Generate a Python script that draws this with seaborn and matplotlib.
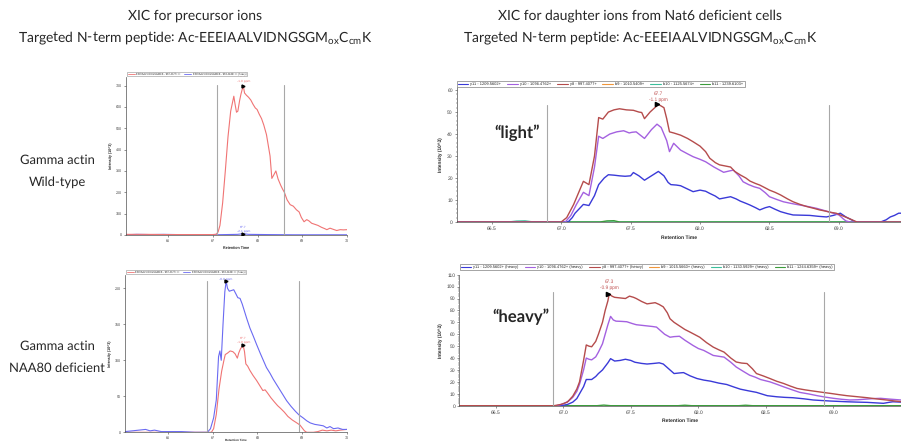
import matplotlib
matplotlib.use("Agg")
import matplotlib.pyplot as plt
from matplotlib.lines import Line2D
from matplotlib.ticker import MultipleLocator
import numpy as np
import pandas as pd
import seaborn as sns

# ---------------------------------------------------------------- data
# Precursor XIC, gamma actin wild-type (retention time [min], intensity [10^3])
wt_light = [(65.06, 3), (65.5, 3), (66.0, 2), (66.5, 2), (67.0, 2), (67.08, 4), (67.12, 15),
            (67.16, 45), (67.22, 150), (67.28, 300), (67.34, 460), (67.40, 580), (67.47, 650),
            (67.50, 610), (67.53, 575), (67.56, 580), (67.60, 630), (67.63, 660), (67.68, 700),
            (67.71, 665), (67.75, 655), (67.80, 645), (67.85, 632), (67.90, 612), (67.95, 595),
            (67.99, 588), (68.04, 565), (68.09, 545), (68.14, 515), (68.20, 470), (68.24, 420),
            (68.28, 370), (68.32, 265), (68.36, 280), (68.41, 300), (68.46, 262), (68.52, 232),
            (68.56, 215), (68.60, 200), (68.66, 165), (68.73, 142), (68.80, 135), (68.87, 118),
            (68.93, 108), (68.98, 82), (69.04, 62), (69.10, 72), (69.15, 66), (69.21, 55),
            (69.28, 50), (69.35, 45), (69.43, 36), (69.50, 30), (69.55, 25), (69.62, 32),
            (69.70, 26), (69.77, 21), (69.85, 25), (69.92, 24), (70.0, 25)]
wt_heavy = [(65.06, 1), (65.3, 3), (65.6, 2), (65.9, 3), (66.2, 2), (66.6, 1), (67.0, 1),
            (67.3, 2), (67.55, 3), (67.68, 6), (67.8, 3), (68.2, 2), (68.8, 1), (69.4, 1), (70.0, 1)]

# Precursor XIC, gamma actin NAA80 deficient
ko_light = [(65.04, 0), (65.5, 0), (66.0, 0), (66.5, 0), (66.97, 0), (67.02, 5), (67.08, 25),
            (67.14, 60), (67.20, 85), (67.25, 100), (67.28, 108), (67.33, 110), (67.39, 113),
            (67.45, 112), (67.50, 109), (67.55, 103), (67.58, 110), (67.62, 116), (67.68, 121),
            (67.71, 112), (67.74, 95), (67.78, 92), (67.83, 86), (67.90, 79), (67.98, 72),
            (68.05, 65), (68.12, 58), (68.17, 59), (68.22, 55), (68.30, 48), (68.38, 42),
            (68.45, 37), (68.52, 33), (68.60, 28), (68.68, 22), (68.78, 17), (68.88, 13),
            (68.95, 10), (69.00, 6), (69.05, 2), (69.10, 0), (69.25, 0), (69.35, 1), (69.45, 3),
            (69.55, 2), (69.65, 3), (69.75, 2), (69.85, 3), (70.0, 4)]
ko_heavy = [(65.04, 1), (65.2, 2), (65.35, 3), (65.5, 4), (65.6, 2), (65.7, 3), (65.85, 1),
            (66.0, 1), (66.3, 1), (66.6, 0), (66.88, 0), (66.95, 5), (67.02, 20), (67.08, 45),
            (67.13, 105), (67.16, 113), (67.19, 100), (67.23, 150), (67.27, 195), (67.30, 210),
            (67.33, 200), (67.37, 196), (67.42, 197), (67.47, 198), (67.52, 192), (67.56, 187),
            (67.61, 186), (67.66, 178), (67.71, 168), (67.76, 158), (67.83, 145), (67.91, 133),
            (67.98, 122), (68.06, 110), (68.13, 100), (68.20, 90), (68.28, 82), (68.35, 74),
            (68.43, 66), (68.50, 59), (68.58, 51), (68.65, 44), (68.75, 36), (68.85, 29),
            (68.93, 24), (69.02, 20), (69.10, 16), (69.18, 13), (69.28, 11), (69.38, 10),
            (69.47, 9), (69.55, 6), (69.62, 8), (69.70, 5), (69.80, 6), (69.90, 4), (70.0, 4)]

# Fragment-ion XIC, Nat6 deficient cells, light peptide
light_y8 = [(66.25, 0), (66.6, 0), (67.0, 0), (67.04, 2), (67.09, 8), (67.13, 14), (67.16, 18.5),
            (67.20, 17), (67.24, 30), (67.27, 47.5), (67.30, 46.8), (67.34, 50), (67.38, 51),
            (67.42, 51.5), (67.47, 51), (67.52, 50.8), (67.56, 50), (67.58, 49.8), (67.60, 47),
            (67.64, 50), (67.70, 53.5), (67.74, 52), (67.76, 47), (67.78, 41), (67.81, 40.5),
            (67.86, 39.5), (67.91, 38), (67.95, 36.5), (68.0, 34.5), (68.04, 32), (68.07, 29),
            (68.11, 27), (68.14, 26), (68.18, 25.5), (68.22, 25), (68.25, 23), (68.29, 21.4),
            (68.33, 20), (68.36, 18.6), (68.40, 17.5), (68.43, 16.8), (68.47, 15.5), (68.50, 14.5),
            (68.54, 13.5), (68.58, 12.3), (68.63, 10.5), (68.67, 9.2), (68.72, 8), (68.77, 7),
            (68.82, 6.2), (68.86, 5.5), (68.90, 5), (68.94, 4.4), (68.98, 4), (69.01, 3.2),
            (69.05, 2.2), (69.08, 1.4), (69.13, 0), (69.3, 0), (69.45, 0)]
light_y10 = [(66.25, 0), (66.6, 0), (67.03, 0), (67.07, 3), (67.11, 8), (67.16, 13.5), (67.20, 12),
             (67.24, 25), (67.27, 39), (67.30, 38), (67.35, 40), (67.40, 41), (67.45, 41.5),
             (67.49, 40.5), (67.51, 40.8), (67.54, 41), (67.57, 39.5), (67.60, 38), (67.65, 42),
             (67.69, 44.5), (67.72, 43), (67.76, 37), (67.78, 32), (67.81, 35.8), (67.86, 32.7),
             (67.91, 31), (67.95, 29.7), (68.0, 28.5), (68.04, 27.4), (68.10, 25), (68.17, 22.6),
             (68.21, 23.2), (68.24, 23.6), (68.28, 21), (68.31, 18.3), (68.35, 17), (68.39, 16),
             (68.43, 15.3), (68.47, 13.3), (68.50, 11.5), (68.55, 10.3), (68.60, 9.2), (68.66, 8.4),
             (68.72, 7.7), (68.78, 7), (68.84, 6.2), (68.89, 5.3), (68.94, 4.4), (69.0, 3.2),
             (69.03, 1.5), (69.05, 0.5), (69.08, 0), (69.3, 0), (69.45, 0)]
light_y11 = [(66.25, 0), (66.6, 0), (67.05, 0), (67.08, 2), (67.10, 4), (67.13, 6), (67.16, 8),
             (67.20, 7.5), (67.24, 12), (67.27, 17), (67.31, 20), (67.34, 21.5), (67.38, 21.3),
             (67.42, 21), (67.46, 20.8), (67.50, 21), (67.52, 22.5), (67.56, 21), (67.60, 19),
             (67.65, 21), (67.70, 23), (67.74, 21), (67.77, 18), (67.79, 17), (67.83, 16.8),
             (67.86, 16.5), (67.91, 15), (67.95, 13.8), (68.0, 14.5), (68.04, 14), (68.07, 13),
             (68.11, 11.8), (68.14, 10.5), (68.18, 11), (68.22, 11.5), (68.26, 10.5), (68.29, 9.5),
             (68.33, 8.5), (68.36, 7.7), (68.40, 6.5), (68.43, 5.5), (68.47, 6.5), (68.50, 7),
             (68.54, 5.8), (68.58, 4.7), (68.63, 3.8), (68.67, 3.2), (68.73, 3.1), (68.79, 3),
             (68.85, 2.6), (68.91, 2.3), (68.96, 3), (69.01, 4), (69.05, 2.3), (69.09, 1),
             (69.12, 0), (69.30, 0), (69.34, 1), (69.37, 2.3), (69.40, 3), (69.43, 4), (69.45, 4)]
light_b9 = [(66.25, 0), (67.5, 0), (69.45, 0)]
light_b10 = [(66.25, 0), (66.62, 0), (66.68, 0.4), (66.74, 0.5), (66.80, 0), (69.45, 0)]
light_b11 = [(66.25, 0), (67.28, 0), (67.33, 0.5), (67.38, 0.6), (67.42, 0), (69.45, 0)]

# Fragment-ion XIC, Nat6 deficient cells, heavy peptide
heavy_y8 = [(66.23, 0), (66.6, 0), (66.93, 0), (66.98, 1), (67.03, 3), (67.07, 8), (67.10, 14),
            (67.12, 20), (67.15, 38), (67.17, 51), (67.19, 50), (67.21, 49.5), (67.24, 54),
            (67.26, 60), (67.29, 70), (67.31, 80), (67.33, 88), (67.34, 94), (67.36, 92),
            (67.38, 91), (67.42, 90.5), (67.46, 90), (67.49, 92), (67.52, 91), (67.54, 90),
            (67.58, 87.5), (67.62, 85.5), (67.65, 86), (67.68, 86.5), (67.71, 85), (67.74, 83),
            (67.77, 78), (67.79, 73), (67.82, 70), (67.86, 67), (67.90, 64), (67.94, 61.7),
            (68.01, 57.5), (68.06, 53), (68.11, 49.2), (68.15, 47), (68.19, 45), (68.24, 40),
            (68.28, 36.7), (68.32, 35.8), (68.36, 35.4), (68.40, 31), (68.43, 27), (68.48, 25),
            (68.53, 22.8), (68.58, 20.5), (68.63, 18.7), (68.68, 16.5), (68.73, 14.5),
            (68.79, 13.3), (68.85, 12.3), (68.92, 11.2), (68.98, 10.3), (69.04, 9.3), (69.10, 8.4),
            (69.18, 7.5), (69.25, 6.7), (69.32, 5.7), (69.40, 4.7), (69.45, 4), (69.50, 3.4)]
heavy_y10 = [(66.23, 0), (66.6, 0), (66.95, 0), (67.0, 1.5), (67.04, 4), (67.07, 7), (67.10, 12),
             (67.12, 18), (67.15, 30), (67.17, 40), (67.19, 39), (67.21, 38.5), (67.24, 41),
             (67.26, 45), (67.29, 52), (67.31, 60), (67.33, 68), (67.35, 75), (67.37, 72),
             (67.39, 71), (67.43, 70.8), (67.47, 70.5), (67.51, 69), (67.54, 68), (67.58, 67.5),
             (67.62, 67), (67.66, 66.5), (67.69, 66), (67.72, 63), (67.75, 60), (67.79, 57.5),
             (67.82, 58), (67.86, 58.3), (67.90, 55), (67.96, 50.6), (68.0, 48), (68.04, 46.4),
             (68.11, 42.2), (68.15, 41.5), (68.19, 40.8), (68.24, 36.5), (68.28, 32.5), (68.33, 29),
             (68.38, 25.6), (68.42, 24), (68.46, 22), (68.53, 20), (68.58, 18), (68.63, 15.9),
             (68.69, 13.5), (68.75, 11.2), (68.82, 9.8), (68.88, 8.4), (68.94, 7.2), (69.0, 6.2),
             (69.06, 5.4), (69.12, 4.8), (69.18, 5), (69.25, 5.6), (69.30, 6), (69.35, 6.2),
             (69.42, 5.5), (69.50, 4.8)]
heavy_y11 = [(66.23, 0), (66.6, 0), (66.98, 0), (67.03, 1), (67.07, 3), (67.10, 6), (67.12, 10),
             (67.15, 16), (67.17, 22), (67.19, 22), (67.21, 22), (67.24, 24.5), (67.26, 27),
             (67.29, 30), (67.31, 33), (67.33, 36), (67.35, 39.5), (67.38, 37.5), (67.42, 38),
             (67.46, 39), (67.50, 38), (67.53, 36.5), (67.58, 35.5), (67.62, 35), (67.67, 35.5),
             (67.71, 36), (67.74, 35), (67.77, 32), (67.79, 30), (67.82, 27), (67.86, 27.5),
             (67.89, 27.8), (67.94, 25), (67.99, 22.8), (68.04, 21.5), (68.09, 20.6), (68.15, 19),
             (68.21, 17.8), (68.26, 15.8), (68.31, 13.9), (68.37, 12.5), (68.43, 11.2), (68.47, 9.8),
             (68.51, 8.4), (68.58, 7.5), (68.64, 7), (68.70, 6.7), (68.78, 5.8), (68.85, 4.8),
             (68.92, 4.3), (68.98, 3.9), (69.04, 3.6), (69.10, 3.3), (69.18, 3), (69.25, 2.8),
             (69.31, 2.4), (69.37, 2), (69.41, 2.8), (69.44, 3.3), (69.50, 3)]
heavy_b9 = [(66.23, 0), (67.8, 0), (69.50, 0)]
heavy_b10 = [(66.23, 0), (67.5, 0), (69.50, 0)]
heavy_b11 = [(66.23, 0), (67.25, 0), (67.30, 0.5), (67.35, 0), (67.85, 0), (67.90, 0.4),
             (67.95, 0), (68.30, 0), (68.35, 0.4), (68.40, 0), (69.50, 0)]

precursor_labels = ["EEEIAALVIDNGSGMCK - 967.4377+++", "EEEIAALVIDNGSGMCK - 968.4440+++ (heavy)"]
light_ion_labels = ["y11 - 1209.5602+", "y10 - 1096.4762+", "y8 - 997.4077+",
                    "b9 - 1010.5409+", "b10 - 1125.5674+", "b11 - 1239.6103+"]
heavy_ion_labels = ["y11 - 1209.5602+ (heavy)", "y10 - 1096.4762+ (heavy)", "y8 - 997.4077+ (heavy)",
                    "b9 - 1015.5660+ (heavy)", "b10 - 1130.5929+ (heavy)", "b11 - 1244.6359+ (heavy)"]
ppm_errors = {"wt_light": "-1.0 ppm", "wt_heavy": "-2.1 ppm", "ko_light": "-1.0 ppm",
              "ko_heavy": "-0.9 ppm", "light_y8": "-1.1 ppm", "heavy_y8": "-0.9 ppm"}

precursor_ticks = [66, 67, 68, 69, 70]
fragment_ticks = [66.5, 67.0, 67.5, 68.0, 68.5, 69.0]

# ---------------------------------------------------------------- style
RED_P, BLUE_P = "#f07474", "#6a6af2"
ION_COLORS = ["#3a3ad8", "#a461e0", "#b54c4c", "#f0963a", "#3cbf9c", "#3c9c3c"]
GRID_GREY = "#a8a8a8"

sns.set_theme(style="ticks")
plt.rcParams["font.family"] = ["Liberation Sans", "DejaVu Sans"]
# tiny annotation text keeps its true proportions without hinting
plt.rcParams["text.hinting"] = "none"
TITLE_FONT = ["Lato", "DejaVu Sans"]
TITLE_SIZE = 10.0
SIDE_SIZE = 9.4

W, H = 901, 441
fig = plt.figure(figsize=(W / 100, H / 100), dpi=100)


def rect(x0, y0, x1, y1):
    return [x0 / W, 1 - y1 / H, (x1 - x0) / W, (y1 - y0) / H]


def long_frame(series, names):
    rows = []
    for pts, name in zip(series, names):
        for t, v in pts:
            rows.append((t, v, name))
    return pd.DataFrame(rows, columns=["time", "intensity", "ion"])


def draw(ax, series, names, colors, lw):
    df = long_frame(series, names)
    sns.lineplot(data=df, x="time", y="intensity", hue="ion", hue_order=names,
                 palette=dict(zip(names, colors)), estimator=None, sort=False,
                 linewidth=lw, legend=False, ax=ax)
    ax.set_xlabel("")
    ax.set_ylabel("")


def mark_peak(ax, pts, color, ppm, fs, dy1, dy2):
    t, v = max(pts, key=lambda p: p[1])
    ax.plot([t - 0.012], [v], marker=">", ms=fs * 0.9, color="black", zorder=5)
    ax.annotate(f"{t:.1f}", (t, v), xytext=(0, dy1), textcoords="offset pixels",
                ha="center", va="center", fontsize=fs, color=color)
    ax.annotate(ppm, (t, v), xytext=(0, dy2), textcoords="offset pixels",
                ha="center", va="center", fontsize=fs, color=color)


def style_axes(ax, fs, xticks, minor_y=None):
    sns.despine(ax=ax, top=True, right=True)
    for s in ("left", "bottom"):
        ax.spines[s].set_linewidth(0.5)
        ax.spines[s].set_color("#505050")
    ax.set_xticks(xticks)
    ax.tick_params(axis="both", labelsize=fs, length=1.5, width=0.4, pad=1.5, colors="#404040")
    if minor_y:
        ax.yaxis.set_minor_locator(MultipleLocator(minor_y))
        ax.tick_params(axis="y", which="minor", length=0.8, width=0.3)
    ax.set_facecolor("white")


# ---------------------------------------------------------------- precursor panels
ax_wt = fig.add_axes(rect(126, 77, 347, 235))
draw(ax_wt, [wt_heavy, wt_light], ["heavy", "light"], [BLUE_P, RED_P], 0.8)
ax_wt.set_xlim(65.06, 70.0)
ax_wt.set_ylim(0, 740)
ax_wt.set_yticks(range(0, 701, 100))
style_axes(ax_wt, 2.6, precursor_ticks)
for t in (67.09, 68.60):
    ax_wt.axvline(t, ymax=0.95, color=GRID_GREY, lw=0.8)
mark_peak(ax_wt, wt_light, RED_P, ppm_errors["wt_light"], 2.4, 9, 5)
mark_peak(ax_wt, wt_heavy, BLUE_P, ppm_errors["wt_heavy"], 2.4, 7, 3)
ax_wt.set_xlabel("Retention Time", fontsize=2.6, fontweight="bold", labelpad=2)
ax_wt.set_ylabel("Intensity (10^3)", fontsize=2.6, fontweight="bold", labelpad=2)

ax_ko = fig.add_axes(rect(125, 275, 347, 432.3))
draw(ax_ko, [ko_light, ko_heavy], ["light", "heavy"], [RED_P, BLUE_P], 0.8)
ax_ko.set_xlim(65.04, 70.0)
ax_ko.set_ylim(0, 218.5)
ax_ko.set_yticks(range(0, 201, 50))
style_axes(ax_ko, 2.6, precursor_ticks)
for t in (66.88, 68.93):
    ax_ko.axvline(t, ymax=0.96, color=GRID_GREY, lw=0.8)
mark_peak(ax_ko, ko_heavy, BLUE_P, ppm_errors["ko_heavy"], 2.4, 6.5, 3)
mark_peak(ax_ko, ko_light, RED_P, ppm_errors["ko_light"], 2.4, 7, 3.5)
ax_ko.set_xlabel("Retention Time", fontsize=2.2, fontweight="bold", labelpad=-1.2)
ax_ko.set_ylabel("Intensity (10^3)", fontsize=2.6, fontweight="bold", labelpad=2)

for ax in (ax_wt, ax_ko):
    handles = [Line2D([], [], color=RED_P, lw=0.6), Line2D([], [], color=BLUE_P, lw=0.6)]
    ax.legend(handles, precursor_labels, ncol=2, loc="lower left", bbox_to_anchor=(0, 1.0),
              fontsize=1.8, frameon=True, fancybox=False, edgecolor="#909090", framealpha=1,
              borderpad=0.35, handlelength=3, handletextpad=0.5, columnspacing=1.2,
              borderaxespad=0.3).get_frame().set_linewidth(0.4)

# ---------------------------------------------------------------- fragment panels
ax_l = fig.add_axes(rect(457, 87, 901, 222))
draw(ax_l, [light_b9, light_b10, light_b11, light_y11, light_y10, light_y8],
     ["b9", "b10", "b11", "y11", "y10", "y8"],
     [ION_COLORS[3], ION_COLORS[4], ION_COLORS[5], ION_COLORS[0], ION_COLORS[1], ION_COLORS[2]], 1.0)
ax_l.set_xlim(66.25, 69.447)
ax_l.set_ylim(0, 61.4)
ax_l.set_yticks(range(0, 61, 10))
style_axes(ax_l, 3.6, fragment_ticks, minor_y=2)
for t in (66.90, 68.93):
    ax_l.axvline(t, ymax=0.87, color=GRID_GREY, lw=0.8)
mark_peak(ax_l, light_y8, "#c05050", ppm_errors["light_y8"], 3.4, 11, 5)
ax_l.set_xlabel("Retention Time", fontsize=3.6, fontweight="bold", labelpad=3)
ax_l.set_ylabel("Intensity (10^3)", fontsize=3.4, fontweight="bold", labelpad=3)
ax_l.text(517, H - 133, "\u201clight\u201d", transform=None, ha="center", va="center",
          fontsize=12, fontweight="bold", family=TITLE_FONT)

ax_h = fig.add_axes(rect(459.3, 274.7, 901, 405.7))
draw(ax_h, [heavy_b9, heavy_b10, heavy_b11, heavy_y11, heavy_y10, heavy_y8],
     ["b9", "b10", "b11", "y11", "y10", "y8"],
     [ION_COLORS[3], ION_COLORS[4], ION_COLORS[5], ION_COLORS[0], ION_COLORS[1], ION_COLORS[2]], 1.0)
ax_h.set_xlim(66.23, 69.50)
ax_h.set_ylim(0, 110)
ax_h.set_yticks(range(0, 111, 10))
style_axes(ax_h, 3.6, fragment_ticks, minor_y=2)
for t in (66.92, 68.93):
    ax_h.axvline(t, ymax=0.87, color=GRID_GREY, lw=0.8)
mark_peak(ax_h, heavy_y8, "#c05050", ppm_errors["heavy_y8"], 3.4, 12, 6)
ax_h.set_xlabel("Retention Time", fontsize=3.6, fontweight="bold", labelpad=3)
ax_h.set_ylabel("Intensity (10^3)", fontsize=3.4, fontweight="bold", labelpad=3)
ax_h.text(521, H - 317, "\u201cheavy\u201d", transform=None, ha="center", va="center",
          fontsize=12, fontweight="bold", family=TITLE_FONT)

for ax, labels, anchor in ((ax_l, light_ion_labels, (457, 81)), (ax_h, heavy_ion_labels, (460, 264))):
    handles = [Line2D([], [], color=c, lw=0.8) for c in ION_COLORS]
    leg = fig.legend(handles, labels, ncol=6, loc="upper left",
                     bbox_to_anchor=(anchor[0] / W, 1 - anchor[1] / H),
                     fontsize=2.9, frameon=True, fancybox=False, edgecolor="#808080",
                     framealpha=1, borderpad=0.25, handlelength=2.6, handletextpad=0.5,
                     columnspacing=1.5, borderaxespad=0)
    leg.get_frame().set_linewidth(0.5)

# ---------------------------------------------------------------- headings
peptide = r"Targeted N-term peptide: Ac-EEEIAALVIDNGSGM$_{\mathregular{ox}}$C$_{\mathregular{cm}}$K"
for cx, head in ((195, "XIC for precursor ions"), (640, "XIC for daughter ions from Nat6 deficient cells")):
    fig.text(cx / W, 1 - 16 / H, head, ha="center", va="center", fontsize=TITLE_SIZE, family=TITLE_FONT)
    fig.text(cx / W, 1 - 38 / H, peptide, ha="center", va="center", fontsize=TITLE_SIZE, family=TITLE_FONT)

fig.text(57 / W, 1 - 160 / H, "Gamma actin", ha="center", va="center", fontsize=SIDE_SIZE, family=TITLE_FONT)
fig.text(57 / W, 1 - 182 / H, "Wild-type", ha="center", va="center", fontsize=SIDE_SIZE, family=TITLE_FONT)
fig.text(57 / W, 1 - 346 / H, "Gamma actin", ha="center", va="center", fontsize=SIDE_SIZE, family=TITLE_FONT)
fig.text(57 / W, 1 - 368 / H, "NAA80 deficient", ha="center", va="center", fontsize=SIDE_SIZE, family=TITLE_FONT)

fig.savefig("out.png", dpi=100, facecolor="white")
